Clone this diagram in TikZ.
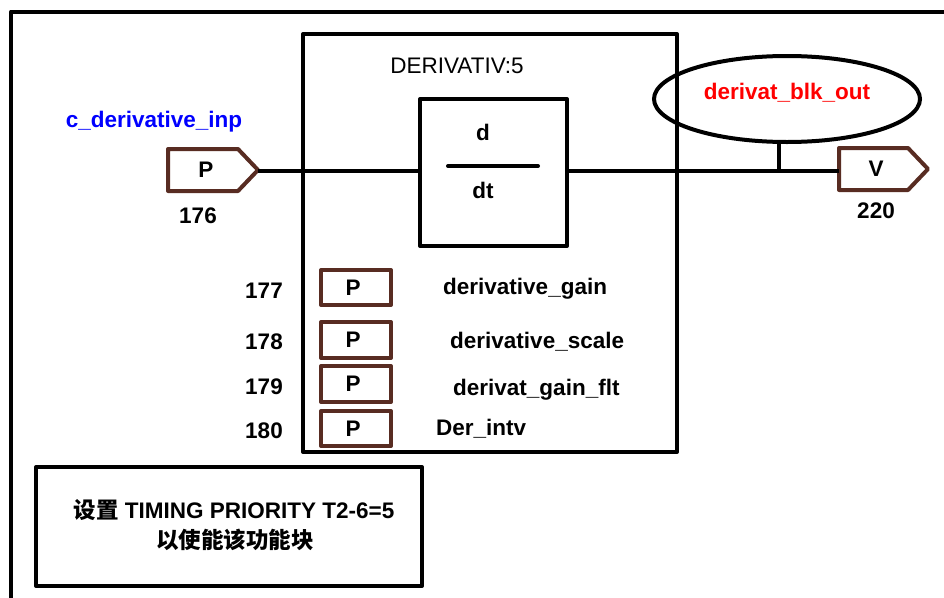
\documentclass[tikz,border=0pt]{standalone}
\usepackage{fontspec}
\setmainfont{Liberation Sans}
\newfontfamily\cjk{Noto Sans CJK SC}
\usetikzlibrary{shapes.geometric}
\definecolor{portbrown}{RGB}{88,44,34}
\definecolor{nameblue}{RGB}{0,0,255}
\definecolor{namered}{RGB}{255,0,0}
\tikzset{
  blk/.style={draw=black,line width=4pt,line join=round},
  wire/.style={draw=black,line width=4pt},
  port/.style={draw=portbrown,line width=4pt,line join=round},
  lbl/.style={font=\fontsize{22.5}{26}\selectfont\bfseries,inner sep=0pt},
  plain/.style={font=\fontsize{22.5}{26}\selectfont,inner sep=0pt},
}
\begin{document}
\begin{tikzpicture}[x=1pt,y=-1pt]
\useasboundingbox (0,0) rectangle (944,597);
\fill[white] (0,0) rectangle (944,597);
% outer frame
\draw[blk] (11,600) -- (11,11.5) -- (950,11.5);
% main block
\draw[blk] (303,34) rectangle (677,452);
\node[plain] (title) at (457,66) {DERIVATIV:5};
% d/dt box
\draw[blk] (420,99) rectangle (567,246);
\coordinate (ddtL) at (420,171);
\coordinate (ddtR) at (567,171);
\draw[line width=4pt,line cap=round] (448,166) -- (538,166);
\node[lbl] (d) at (483,132) {d};
\node[lbl] (dt) at (483,190) {dt};
% input port
\draw[port] (168,149) -- (238,149) -- (258,170) -- (238,191) -- (168,191) -- cycle;
\coordinate (inTip) at (258,171);
\node[lbl] (pin) at (206,170) {P};
\node[lbl] (n176) at (198,216) {176};
\node[lbl,text=nameblue] (inname) at (154,122) {c\_derivative\_inp};
% output port
\draw[port] (839,148) -- (908,148) -- (928,169) -- (908,190) -- (839,190) -- cycle;
\coordinate (outL) at (839,171);
\node[lbl] (vout) at (876,169) {V};
\node[lbl] (n220) at (876,211) {220};
% ellipse
\node[ellipse,draw=black,line width=4pt,minimum width=266pt,minimum height=86pt,inner sep=0pt] (ell) at (787,99) {};
\node[lbl,text=namered] (outname) at (787,93) {derivat\_blk\_out};
\coordinate (tap) at (779,171);
% wires
\draw[wire] (inTip) -- (ddtL);
\draw[wire] (ddtR) -- (outL);
\draw[wire] (tap) -- (779,142);
% parameter ports
\foreach \yt/\yb/\num/\ny in {270/305/177/291, 322/358/178/342, 366/402/179/387, 411/446/180/431}{
  \draw[port] (321,\yt) rectangle (391,\yb);
  \node[lbl] at (353,{(\yt+\yb)/2}) {P};
  \node[lbl] at (264,\ny) {\num};
}
\node[lbl,anchor=west] (g1) at (443,289) {derivative\_gain};
\node[lbl,anchor=west] (g2) at (450,342) {derivative\_scale};
\node[lbl,anchor=west] (g3) at (453,390) {derivat\_gain\_flt};
\node[lbl,anchor=west] (g4) at (436,429) {Der\_intv};
% note box
\draw[blk] (36,467) rectangle (422,586);
\node[lbl] (note1) at (234,510) {{\cjk 设置} TIMING PRIORITY T2-6=5};
\node[lbl] (note2) at (235,540) {\cjk 以使能该功能块};
\end{tikzpicture}
\end{document}
